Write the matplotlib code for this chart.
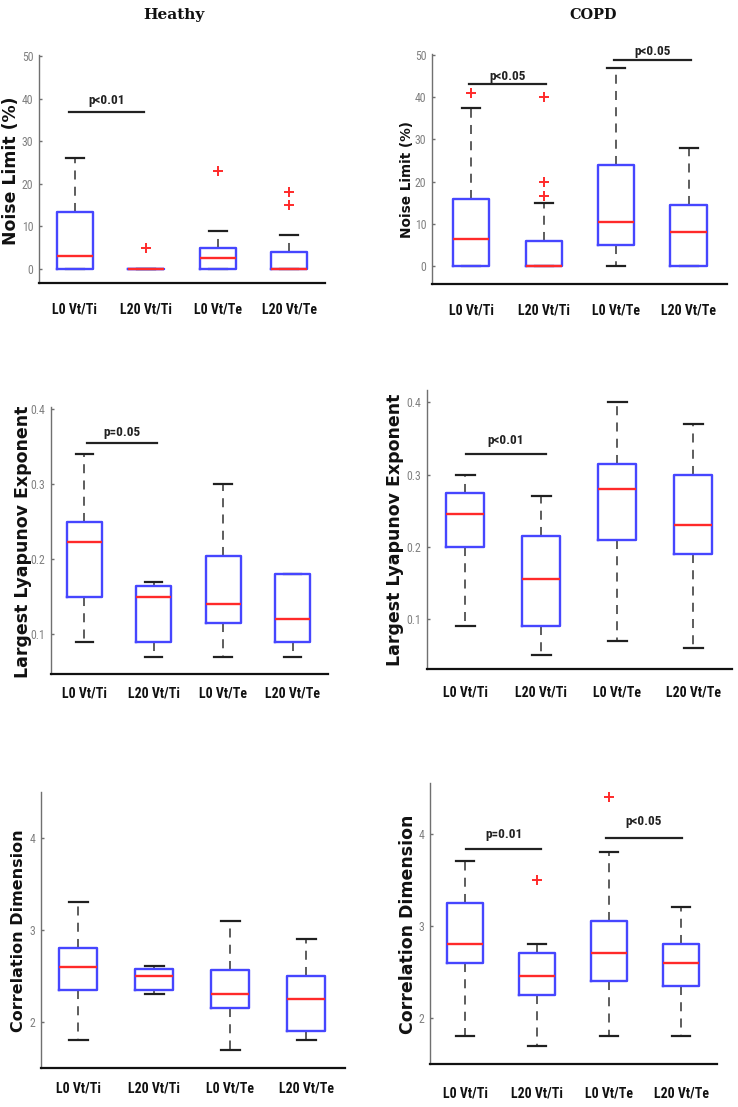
import matplotlib
matplotlib.use("Agg")
import matplotlib.pyplot as plt

W, H = 738, 1107

categories = ["L0 Vt/Ti", "L20 Vt/Ti", "L0 Vt/Te", "L20 Vt/Te"]
group_titles = ["Heathy", "COPD"]
metric_labels = ["Noise Limit (%)", "Largest Lyapunov Exponent", "Correlation Dimension"]

# ---------------- Healthy : Noise Limit (%) ----------------
h_nl_lo = [0, 0, 0, 0]
h_nl_q1 = [0, 0, 0, 0]
h_nl_med = [3, 0, 2.5, 0]
h_nl_q3 = [13.5, 0, 5, 4]
h_nl_hi = [26, 0, 9, 8]
h_nl_out = [[], [5], [23], [15, 18]]
h_nl_sig = [(0.92, 1.97, 37.0, 39.7, "p<0.01")]
h_nl_yticks = [0, 10, 20, 30, 40, 50]

# ---------------- COPD : Noise Limit (%) ----------------
c_nl_lo = [0, 0, 0, 0]
c_nl_q1 = [0, 0, 5, 0]
c_nl_med = [6.5, 0, 10.5, 8]
c_nl_q3 = [16, 6, 24, 14.5]
c_nl_hi = [37.5, 15, 47, 28]
c_nl_out = [[41], [16.5, 20, 40], [], []]
c_nl_sig = [(0.97, 2.03, 43.0, 44.8, "p<0.05"), (2.97, 4.03, 48.8, 50.7, "p<0.05")]
c_nl_yticks = [0, 10, 20, 30, 40, 50]

# ---------------- Healthy : Largest Lyapunov Exponent ----------------
h_lle_lo = [0.09, 0.07, 0.07, 0.07]
h_lle_q1 = [0.15, 0.09, 0.115, 0.09]
h_lle_med = [0.2225, 0.15, 0.14, 0.12]
h_lle_q3 = [0.25, 0.165, 0.205, 0.18]
h_lle_hi = [0.34, 0.17, 0.30, 0.18]
h_lle_out = [[], [], [], []]
h_lle_sig = [(1.04, 2.05, 0.355, 0.369, "p=0.05")]
h_lle_yticks = [0.1, 0.2, 0.3, 0.4]

# ---------------- COPD : Largest Lyapunov Exponent ----------------
c_lle_lo = [0.09, 0.05, 0.07, 0.06]
c_lle_q1 = [0.20, 0.09, 0.21, 0.19]
c_lle_med = [0.245, 0.155, 0.28, 0.23]
c_lle_q3 = [0.275, 0.215, 0.315, 0.30]
c_lle_hi = [0.30, 0.27, 0.40, 0.37]
c_lle_out = [[], [], [], []]
c_lle_sig = [(1.01, 2.07, 0.329, 0.347, "p<0.01")]
c_lle_yticks = [0.1, 0.2, 0.3, 0.4]

# ---------------- Healthy : Correlation Dimension ----------------
h_cd_lo = [1.8, 2.3, 1.7, 1.8]
h_cd_q1 = [2.35, 2.35, 2.15, 1.9]
h_cd_med = [2.6, 2.5, 2.3, 2.25]
h_cd_q3 = [2.8, 2.58, 2.56, 2.5]
h_cd_hi = [3.3, 2.61, 3.1, 2.9]
h_cd_out = [[], [], [], []]
h_cd_sig = []
h_cd_yticks = [2, 3, 4]

# ---------------- COPD : Correlation Dimension ----------------
c_cd_lo = [1.8, 1.7, 1.8, 1.8]
c_cd_q1 = [2.6, 2.25, 2.4, 2.35]
c_cd_med = [2.8, 2.46, 2.7, 2.6]
c_cd_q3 = [3.25, 2.7, 3.05, 2.8]
c_cd_hi = [3.7, 2.8, 3.8, 3.2]
c_cd_out = [[], [3.5], [4.4], []]
c_cd_sig = [(1.01, 2.06, 3.83, 3.99, "p=0.01"), (2.96, 4.01, 3.95, 4.13, "p<0.05")]
c_cd_yticks = [2, 3, 4]

# ---------------- layout (pixels) ----------------
panels = [
    dict(rect=(39, 55, 325, 283), xlim=(0.5, 4.5), ylim=(-3.3, 50.3),
         data=(h_nl_lo, h_nl_q1, h_nl_med, h_nl_q3, h_nl_hi, h_nl_out), sig=h_nl_sig,
         yticks=h_nl_yticks, ylab=0, ylab_pos=(11, 171), ylab_len=148, xpad=14),
    dict(rect=(432, 54, 727, 284), xlim=(0.46, 4.53), ylim=(-4.2, 50.2),
         data=(c_nl_lo, c_nl_q1, c_nl_med, c_nl_q3, c_nl_hi, c_nl_out), sig=c_nl_sig,
         yticks=c_nl_yticks, ylab=0, ylab_pos=(407, 180), ylab_len=117, xpad=14),
    dict(rect=(51, 407, 328, 674), xlim=(0.52, 4.51), ylim=(0.047, 0.403),
         data=(h_lle_lo, h_lle_q1, h_lle_med, h_lle_q3, h_lle_hi, h_lle_out), sig=h_lle_sig,
         yticks=h_lle_yticks, ylab=1, ylab_pos=(23, 542), ylab_len=272, xpad=9),
    dict(rect=(427, 390, 732, 669), xlim=(0.5, 4.51), ylim=(0.031, 0.417),
         data=(c_lle_lo, c_lle_q1, c_lle_med, c_lle_q3, c_lle_hi, c_lle_out), sig=c_lle_sig,
         yticks=c_lle_yticks, ylab=1, ylab_pos=(395, 530), ylab_len=316, xpad=12),
    dict(rect=(41, 792, 345, 1068), xlim=(0.51, 4.51), ylim=(1.5, 4.5),
         data=(h_cd_lo, h_cd_q1, h_cd_med, h_cd_q3, h_cd_hi, h_cd_out), sig=h_cd_sig,
         yticks=h_cd_yticks, ylab=2, ylab_pos=(19, 931), ylab_len=202, xpad=10),
    dict(rect=(430, 783, 717, 1064), xlim=(0.51, 4.5), ylim=(1.5, 4.55),
         data=(c_cd_lo, c_cd_q1, c_cd_med, c_cd_q3, c_cd_hi, c_cd_out), sig=c_cd_sig,
         yticks=c_cd_yticks, ylab=2, ylab_pos=(408, 924), ylab_len=248, xpad=16),
]

NARROW = ["Roboto Condensed", "Liberation Sans Narrow", "Noto Sans", "DejaVu Sans"]
BLUE = "#4646ff"
RED = "#ff2a2a"
MAX_YLAB = 12.5

fig = plt.figure(figsize=(W / 100, H / 100), dpi=100)
renderer = fig.canvas.get_renderer()


def fit_text(x_px, y_px, s, length_px, rotation=0, max_size=None, **kw):
    t = fig.text(x_px / W, 1 - y_px / H, s, rotation=rotation, ha="center",
                 va="center", fontsize=10, **kw)
    bb = t.get_window_extent(renderer)
    cur = bb.height if rotation == 90 else bb.width
    size = 10 * length_px / cur
    if max_size is not None:
        size = min(size, max_size)
    t.set_fontsize(size)
    return t


def tick_fmt(v):
    return f"{v:g}"


for p in panels:
    x0, y0, x1, y1 = p["rect"]
    ax = fig.add_axes([x0 / W, 1 - y1 / H, (x1 - x0) / W, (y1 - y0) / H])
    lo, q1, med, q3, hi, out = p["data"]
    stats = [dict(whislo=lo[i], q1=q1[i], med=med[i], q3=q3[i], whishi=hi[i],
                  fliers=out[i]) for i in range(len(categories))]
    art = ax.bxp(stats, positions=[1, 2, 3, 4], widths=0.5, manage_ticks=False,
                 boxprops=dict(color=BLUE, lw=1.7),
                 medianprops=dict(color=RED, lw=1.7),
                 whiskerprops=dict(color="#505050", lw=1.3, linestyle=(0, (5, 4))),
                 capprops=dict(color="#202020", lw=1.6),
                 flierprops=dict(marker="+", markeredgecolor=RED, markersize=7,
                                 markeredgewidth=1.4, linestyle="none"))
    for b in art["boxes"]:
        b.set_zorder(3)
    for m in art["medians"]:
        m.set_zorder(4)
    ax.set_xlim(*p["xlim"])
    ax.set_ylim(*p["ylim"])
    for sp in ("top", "right"):
        ax.spines[sp].set_visible(False)
    ax.spines["left"].set_color("#707070")
    ax.spines["left"].set_linewidth(1.0)
    ax.spines["bottom"].set_color("#111111")
    ax.spines["bottom"].set_linewidth(1.6)
    ax.set_xticks([1, 2, 3, 4])
    ax.set_xticklabels(categories, fontweight="bold", family=NARROW,
                       fontstretch="condensed", fontsize=10, color="#111111")
    ax.tick_params(axis="x", length=0, pad=p["xpad"])
    ax.set_yticks(p["yticks"])
    ax.set_yticklabels([tick_fmt(v) for v in p["yticks"]], family=NARROW,
                       fontstretch="condensed", fontsize=8.5, color="#808080")
    ax.tick_params(axis="y", direction="in", length=2, width=1, color="#707070", pad=4)
    for (sx0, sx1, sy, ty, lab) in p["sig"]:
        ax.plot([sx0, sx1], [sy, sy], color="#222222", lw=1.6, zorder=5)
        ax.text((sx0 + sx1) / 2, ty, lab, ha="center", va="center", fontweight="bold",
                family=NARROW, fontstretch="condensed", fontsize=9.5, color="#222222")
    fit_text(p["ylab_pos"][0], p["ylab_pos"][1], metric_labels[p["ylab"]],
             p["ylab_len"], rotation=90, max_size=MAX_YLAB, fontweight="bold",
             family="DejaVu Sans", color="#111111")

fit_text(174, 15, group_titles[0], 62, fontweight="bold", family="DejaVu Serif",
         color="#111111")
fit_text(593, 15, group_titles[1], 48, fontweight="bold", family="DejaVu Serif",
         color="#111111")

fig.savefig("out.png", dpi=100)
